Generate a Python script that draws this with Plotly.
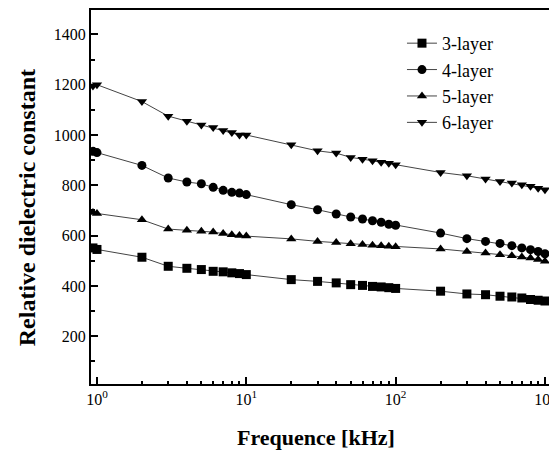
import plotly.graph_objects as go

freq = [0.94, 1, 2, 3, 4, 5, 6, 7, 8, 9, 10, 20, 30, 40, 50, 60, 70, 80, 90, 100,
        200, 300, 400, 500, 600, 700, 800, 900, 1000]

layer3 = [551, 545, 514, 478, 470, 465, 458, 456, 452, 449, 445, 425, 418, 412, 405, 402, 398, 396, 393, 390,
          379, 368, 365, 359, 356, 352, 346, 343, 340]
layer4 = [935, 930, 879, 829, 813, 806, 792, 780, 772, 769, 763, 723, 703, 686, 674, 666, 659, 653, 645, 641,
          610, 588, 577, 569, 560, 551, 544, 537, 528]
layer5 = [692, 688, 663, 626, 621, 617, 614, 608, 603, 600, 598, 587, 577, 573, 568, 565, 562, 560, 558, 556,
          547, 537, 531, 524, 520, 515, 511, 505, 498]
layer6 = [1195, 1200, 1133, 1075, 1055, 1040, 1030, 1018, 1010, 1000, 1000, 961, 937, 928, 911, 904, 898, 892, 888, 882,
          851, 838, 825, 815, 809, 802, 796, 788, 782]

x_tickvals = [1, 10, 100, 1000]
x_ticktext = ["10<sup>0</sup>", "10<sup>1</sup>", "10<sup>2</sup>", "10<sup>3</sup>"]
y_tickvals = [200, 400, 600, 800, 1000, 1200, 1400]

series = [("3-layer", layer3, "square"),
          ("4-layer", layer4, "circle"),
          ("5-layer", layer5, "triangle-up"),
          ("6-layer", layer6, "triangle-down")]

font = "Liberation Serif"

fig = go.Figure()
for name, vals, sym in series:
    fig.add_trace(go.Scatter(
        x=freq, y=vals, name=name, legendgroup=name, mode="lines+markers",
        line=dict(color="#444444", width=1),
        marker=dict(symbol=sym, size=9, color="black"),
    ))

fig.update_layout(
    width=549, height=447,
    margin=dict(l=83, r=8, t=2, b=71, autoexpand=False),
    paper_bgcolor="white", plot_bgcolor="white",
    font=dict(family=font, color="black", size=15),
    showlegend=True,
    legend=dict(x=0.679, y=0.96, xanchor="left", yanchor="top",
                bgcolor="rgba(0,0,0,0)", font=dict(size=18, family=font),
                tracegroupgap=0),
    annotations=[
        dict(text="<b>Relative dielectric constant</b>", xref="paper", yref="paper",
             x=-0.138, y=0.472, xanchor="center", yanchor="middle", textangle=-90,
             showarrow=False, font=dict(size=24, family=font)),
        dict(text="<b>Frequence [kHz]</b>", xref="paper", yref="paper",
             x=0.491, y=-0.144, xanchor="center", yanchor="middle",
             showarrow=False, font=dict(size=22, family=font)),
    ],
)

fig.update_xaxes(
    type="log", range=[-0.04, 3.027], automargin=False,
    tickvals=x_tickvals, ticktext=x_ticktext,
    ticks="inside", ticklen=7, tickwidth=1.5, tickcolor="black",
    minor=dict(ticks="inside", ticklen=3, dtick="D1", tickcolor="black", showgrid=False),
    showline=True, linewidth=2, linecolor="black", mirror=True,
    showgrid=False, zeroline=False,
    tickfont=dict(size=16, family=font),
)
fig.update_yaxes(
    range=[10, 1497], automargin=False,
    tickvals=y_tickvals,
    ticks="inside", ticklen=7, tickwidth=1.5, tickcolor="black",
    minor=dict(ticks="inside", ticklen=4, tickvals=[100, 300, 500, 700, 900, 1100, 1300], tickcolor="black"),
    showline=True, linewidth=2, linecolor="black", mirror=True,
    showgrid=False, zeroline=False,
    tickfont=dict(size=16, family=font),
)

fig.write_html("out.html")
